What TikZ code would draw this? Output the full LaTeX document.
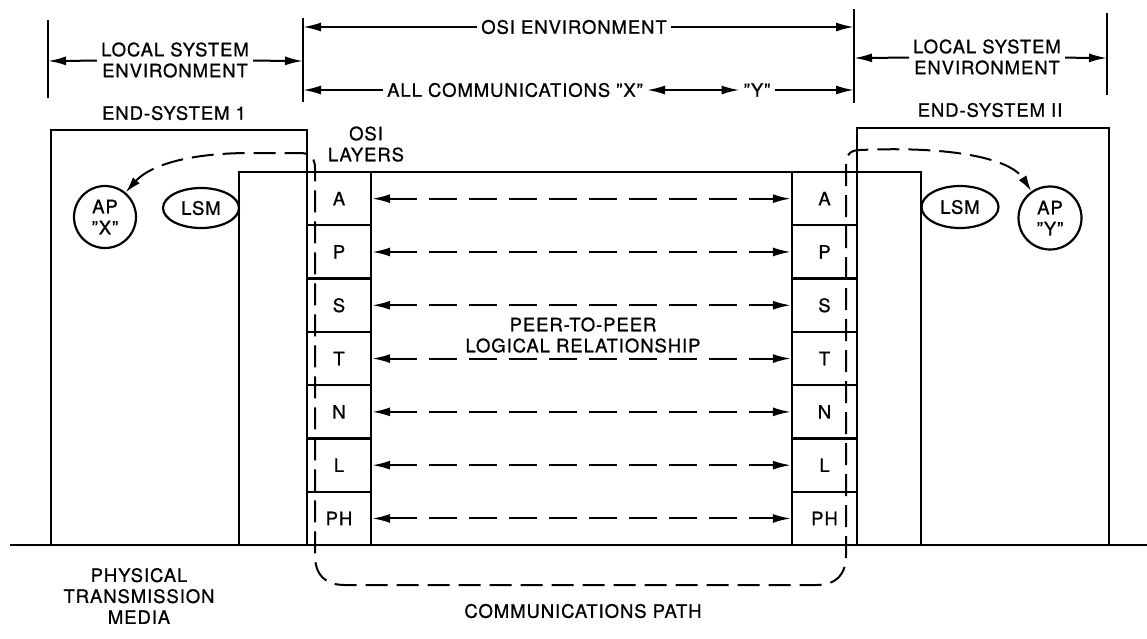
\documentclass[tikz,border=0pt]{standalone}
\usepackage{fontspec}
\setmainfont{TeX Gyre Heros}[LetterSpace=5,FakeBold=0.8]
\usetikzlibrary{arrows.meta,shapes.geometric}
\newcommand\dq{\char34\relax}
\begin{document}
\begin{tikzpicture}[x=1pt,y=-1pt,
  every node/.style={font=\fontsize{18.5}{21}\selectfont, inner sep=4pt, align=center},
  wall/.style={line width=2.4pt},
  cell/.style={draw, line width=2.3pt, minimum height=53.3pt, inner sep=0pt},
  hdr/.style={line width=2pt},
  tip/.style={-{Latex[length=18pt,width=9pt]}},
  dtip/.style={{Latex[length=18pt,width=9pt]}-{Latex[length=18pt,width=9pt]}},
  peerarrow/.style={line width=2pt, dash pattern=on 28pt off 12pt, {Latex[length=18pt,width=9pt]}-{Latex[length=18pt,width=9pt]}},
  commpath/.style={line width=2pt, dash pattern=on 22pt off 9pt, {Latex[length=16pt,width=9pt]}-{Latex[length=16pt,width=9pt]}},
  bubble/.style={draw, line width=2.2pt, inner sep=0pt}
]
\useasboundingbox (0,0) rectangle (1147,638);

% header brackets
\coordinate (b1t) at (48,20);   \coordinate (b1b) at (48,98);
\coordinate (b2t) at (303,18);  \coordinate (b2b) at (303,102);
\coordinate (b3t) at (854,9);   \coordinate (b3b) at (854,103);
\coordinate (b4t) at (1107,13); \coordinate (b4b) at (1107,95);
\draw[hdr] (b1t) -- (b1b);
\draw[hdr] (b2t) -- (b2b);
\draw[hdr] (b3t) -- (b3b);
\draw[hdr] (b4t) -- (b4b);

\node (lseL) at (175,60) {LOCAL SYSTEM\\ENVIRONMENT};
\node (lseR) at (987,57) {LOCAL SYSTEM\\ENVIRONMENT};
\node (osienv) at (574,27) {OSI ENVIRONMENT};
\node (allcomm) at (515,90) {ALL COMMUNICATIONS \dq X\dq};
\node (ytxt) at (757,90) {\dq Y\dq};

\coordinate (e1) at (48,61);  \coordinate (e2) at (303,61);
\coordinate (e3) at (854,58); \coordinate (e4) at (1107,58);
\coordinate (o1) at (303,27); \coordinate (o2) at (854,27);
\coordinate (c1) at (303,90); \coordinate (c2) at (854,90);

\draw[hdr,tip] (lseL) -- (e1);
\draw[hdr,tip] (lseL) -- (e2);
\draw[hdr,tip] (lseR) -- (e3);
\draw[hdr,tip] (lseR) -- (e4);
\draw[hdr,tip] (osienv) -- (o1);
\draw[hdr,tip] (osienv) -- (o2);
\draw[hdr,tip] (allcomm) -- (c1);
\draw[hdr,dtip] (allcomm) -- (ytxt);
\draw[hdr,tip] (ytxt) -- (c2);

% labels
\node (es1) at (174,113) {END-SYSTEM 1};
\node (es2) at (990,110) {END-SYSTEM II};
\node (osil) at (366,144) {OSI\\LAYERS};
\node (ptm) at (139,596) {PHYSICAL\\TRANSMISSION\\MEDIA};
\node (peer) at (583,335) {PEER-TO-PEER\\LOGICAL RELATIONSHIP};
\node (cpath) at (583,611) {COMMUNICATIONS PATH};

% systems
\draw[wall] (51,545) -- (51,130) -- (307,130) -- (307,545);
\draw[wall] (857,545) -- (857,128) -- (1109,128) -- (1109,545);
\draw[wall] (239,545) -- (239,172) -- (921,172) -- (921,545);
\draw[wall] (10,545) -- (1147,545);

% layers
\foreach \n/\t [count=\i from 0] in {A/A,P/P,S/S,T/T,N/N,L/L,H/PH} {
  \node[cell, minimum width=64pt] (l\n) at (339,198.65+53.3*\i) {\t};
  \node[cell, minimum width=65pt] (r\n) at (824.5,198.65+53.3*\i) {\t};
}
\foreach \n in {A,P,S,T,N,L,H} {
  \draw[peerarrow] (l\n) -- (r\n);
}

% application processes and LSM
\node[bubble, circle, minimum size=62pt] (apx) at (105,217) {AP\\\dq X\dq};
\node[bubble, circle, minimum size=63pt] (apy) at (1050,218) {AP\\\dq Y\dq};
\node[bubble, ellipse, minimum width=76pt, minimum height=40pt] (lsm1) at (201,208) {LSM};
\node[bubble, ellipse, minimum width=77pt, minimum height=42pt] (lsm2) at (960,207) {LSM};

% communications path
\draw[commpath] (apx.50) .. controls (150,165) and (190,153) .. (250,153)
  -- (300,153) .. controls (310,153) and (315,158) .. (315,168)
  -- (315,555) .. controls (315,575) and (325,585) .. (345,585)
  -- (816,585) .. controls (836,585) and (846,575) .. (846,555)
  -- (846,165) .. controls (846,155) and (850,150) .. (860,150)
  .. controls (950,146) and (1010,158) .. (apy.125);
\end{tikzpicture}
\end{document}
